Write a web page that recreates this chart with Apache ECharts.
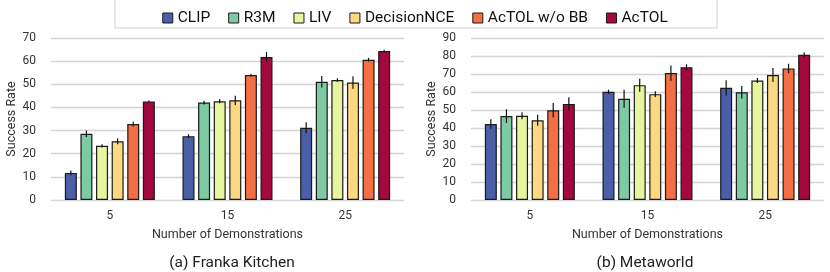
<!DOCTYPE html>
<html><head><meta charset="utf-8">
<script src="https://cdn.jsdelivr.net/npm/echarts@6/dist/echarts.min.js"></script>
<style>html,body{margin:0;padding:0;background:#fff}#c{width:830px;height:272px}</style>
</head><body><div id="c"></div>
<script>
const categories = ['5', '15', '25'];
const seriesNames = ['CLIP', 'R3M', 'LIV', 'DecisionNCE', 'AcTOL w/o BB', 'AcTOL'];
const colors = ['#4a5fa8', '#7ecba3', '#e8f59f', '#fdd883', '#f46f43', '#a3083f'];

// Franka Kitchen
const kitchenCLIP = [11.7, 27.6, 31.2];
const kitchenR3M = [28.6, 42.1, 51.1];
const kitchenLIV = [23.4, 42.7, 51.8];
const kitchenDNCE = [25.4, 43.1, 50.8];
const kitchenNoBB = [32.8, 54.0, 60.6];
const kitchenAcTOL = [42.6, 61.8, 64.4];
const kitchenErrCLIP = [1.0, 0.8, 2.4];
const kitchenErrR3M = [1.4, 0.8, 2.5];
const kitchenErrLIV = [0.7, 0.9, 0.8];
const kitchenErrDNCE = [1.3, 2.0, 2.7];
const kitchenErrNoBB = [1.0, 0.6, 0.8];
const kitchenErrAcTOL = [0.4, 2.2, 0.5];

// Metaworld
const metaCLIP = [42.2, 60.1, 62.3];
const metaR3M = [46.6, 56.2, 59.9];
const metaLIV = [46.8, 63.8, 66.4];
const metaDNCE = [44.3, 58.8, 69.4];
const metaNoBB = [49.9, 70.5, 73.1];
const metaAcTOL = [53.4, 73.8, 80.7];
const metaErrCLIP = [2.6, 1.2, 4.2];
const metaErrR3M = [3.8, 5.0, 3.5];
const metaErrLIV = [2.0, 3.6, 1.4];
const metaErrDNCE = [3.0, 1.6, 3.9];
const metaErrNoBB = [4.0, 4.2, 2.6];
const metaErrAcTOL = [3.7, 1.6, 1.4];

const kitchenVals = [kitchenCLIP, kitchenR3M, kitchenLIV, kitchenDNCE, kitchenNoBB, kitchenAcTOL];
const kitchenErrs = [kitchenErrCLIP, kitchenErrR3M, kitchenErrLIV, kitchenErrDNCE, kitchenErrNoBB, kitchenErrAcTOL];
const metaVals = [metaCLIP, metaR3M, metaLIV, metaDNCE, metaNoBB, metaAcTOL];
const metaErrs = [metaErrCLIP, metaErrR3M, metaErrLIV, metaErrDNCE, metaErrNoBB, metaErrAcTOL];

const FONT = 'Roboto';
const BAR_W = 12;
const BAR_GAP = 0.3;
const STEP = BAR_W * (1 + BAR_GAP);

function barSeries(vals, gi) {
  return vals.map((v, i) => ({
    name: seriesNames[i], type: 'bar', xAxisIndex: gi, yAxisIndex: gi,
    data: v, barWidth: BAR_W, barGap: (BAR_GAP * 100) + '%',
    itemStyle: { color: colors[i], borderColor: '#1a1a1a', borderWidth: 1.2 },
    emphasis: { disabled: true }, z: 2
  }));
}
function errSeries(vals, errs, gi) {
  return vals.map((v, i) => ({
    type: 'custom', xAxisIndex: gi, yAxisIndex: gi, z: 5, silent: true,
    data: v.map((y, k) => [k, y, errs[i][k]]),
    renderItem: function (params, api) {
      const k = api.value(0), y = api.value(1), e = api.value(2);
      const off = (i - 2.5) * STEP;
      const hi = api.coord([k, y + e]);
      const lo = api.coord([k, y - e]);
      const x = hi[0] + off;
      return { type: 'line', shape: { x1: x, y1: hi[1], x2: x, y2: lo[1] },
        style: { stroke: '#111', lineWidth: 1.2 } };
    }
  }));
}

const axisLabelStyle = { color: '#333', fontFamily: FONT, fontSize: 12 };
function xAxis(gi) {
  return { type: 'category', gridIndex: gi, data: categories,
    name: 'Number of Demonstrations', nameLocation: 'middle', nameGap: 28,
    nameTextStyle: { color: '#333', fontFamily: FONT, fontSize: 12.5 },
    axisLine: { show: true, lineStyle: { color: '#d9d9d9', width: 1 } },
    axisTick: { show: false }, axisLabel: Object.assign({ margin: 10 }, axisLabelStyle) };
}
function yAxis(gi, max) {
  return { type: 'value', gridIndex: gi, min: 0, max: max, interval: 10,
    name: 'Success Rate', nameLocation: 'middle', nameGap: 26,
    nameTextStyle: { color: '#333', fontFamily: FONT, fontSize: 12.5 },
    axisLine: { show: false }, axisTick: { show: false },
    axisLabel: Object.assign({ margin: 15 }, axisLabelStyle),
    splitLine: { lineStyle: { color: '#d4d4d4', width: 1.3 } } };
}

const chart = echarts.init(document.getElementById('c'), null, { renderer: 'canvas' });
chart.setOption({
  animation: false,
  color: colors,
  graphic: [{ type: 'rect', shape: { x: 115, y: -5, width: 602, height: 33 },
    style: { fill: 'none', stroke: '#cfcfcf', lineWidth: 1 }, silent: true }],
  legend: { top: 5, left: 'center', itemWidth: 10, itemHeight: 10, itemGap: 18,
    icon: 'rect', data: seriesNames,
    itemStyle: { borderColor: '#1a1a1a', borderWidth: 1 },
    textStyle: { color: '#111', fontFamily: FONT, fontSize: 15.5 } },
  title: [
    { text: '(a) Franka Kitchen', left: 227, top: 250, textAlign: 'center',
      textStyle: { fontFamily: FONT, fontSize: 15.5, fontWeight: 'normal', color: '#222' } },
    { text: '(b) Metaworld', left: 640, top: 250, textAlign: 'center',
      textStyle: { fontFamily: FONT, fontSize: 15.5, fontWeight: 'normal', color: '#222' } }
  ],
  grid: [
    { left: 51, right: 426, top: 38, bottom: 72 },
    { left: 471, right: 6, top: 38, bottom: 72 }
  ],
  xAxis: [xAxis(0), xAxis(1)],
  yAxis: [yAxis(0, 70), yAxis(1, 90)],
  series: [].concat(barSeries(kitchenVals, 0), barSeries(metaVals, 1),
    errSeries(kitchenVals, kitchenErrs, 0), errSeries(metaVals, metaErrs, 1))
});
</script></body></html>
